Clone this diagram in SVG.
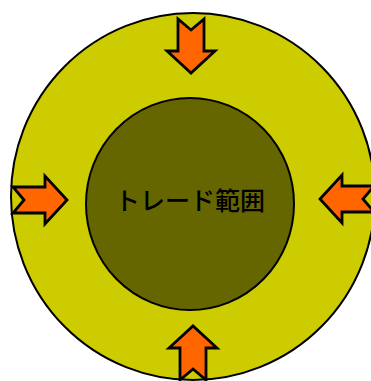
<svg xmlns="http://www.w3.org/2000/svg" xmlns:xlink="http://www.w3.org/1999/xlink" width="371" height="381" viewBox="0 0 371 381">
  <style>
    .outer { fill: #cccc00; stroke: #000; stroke-width: 2; }
    .inner { fill: #666600; stroke: #000; stroke-width: 2; }
    .arrow { fill: #ff6600; stroke: #000; stroke-width: 2.8; stroke-linejoin: miter; }
    .label { font-family: "Noto Sans CJK JP", "Noto Sans", sans-serif; font-size: 25px; font-weight: 500; fill: #000; text-anchor: middle; dominant-baseline: central; }
  </style>
  <defs>
    <path id="blockArrow" d="M0,-13 H32 V-24 L54,0 L32,24 V13 H0 L11,0 Z"/>
  </defs>
  <g id="outer-range">
    <ellipse class="outer" cx="193" cy="196.5" rx="182" ry="183.5"/>
  </g>
  <g id="trade-range">
    <ellipse class="inner" cx="190" cy="204" rx="104" ry="106"/>
    <text class="label" x="190" y="198.5">トレード範囲</text>
  </g>
  <g id="arrows">
    <use id="arrow-top" class="arrow" xlink:href="#blockArrow" transform="translate(191,19) rotate(90)"/>
    <use id="arrow-left" class="arrow" xlink:href="#blockArrow" transform="translate(13,200)"/>
    <use id="arrow-right" class="arrow" xlink:href="#blockArrow" transform="translate(374,199) rotate(180)"/>
    <use id="arrow-bottom" class="arrow" xlink:href="#blockArrow" transform="translate(193,380) rotate(-90)"/>
  </g>
</svg>
